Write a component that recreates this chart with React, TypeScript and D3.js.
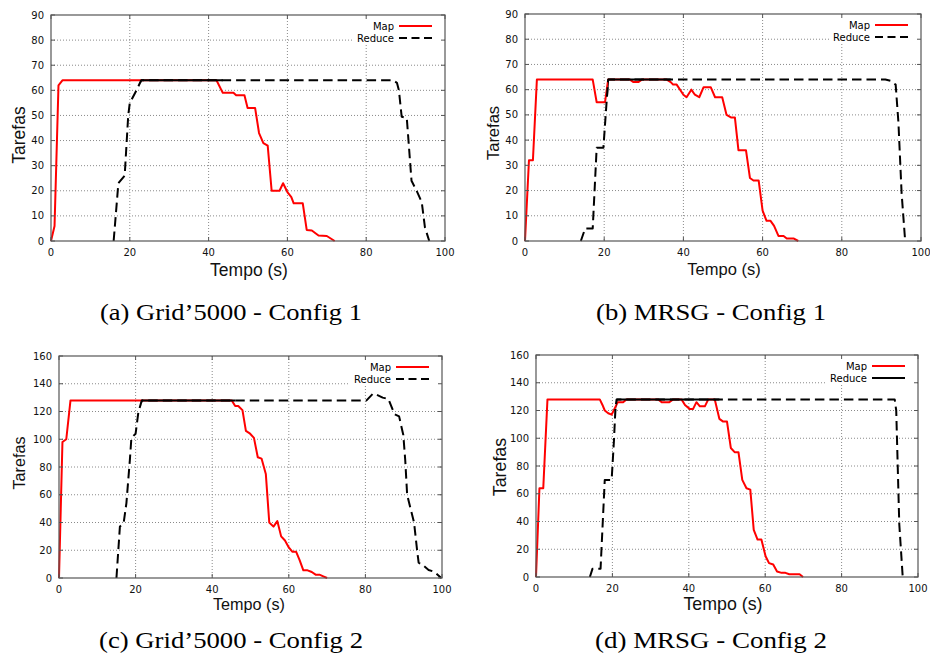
import React from "react";
import * as d3 from "d3";

type Pt = [number, number];

// tick values
const xTicks = [0, 20, 40, 60, 80, 100];
const yTicksConfig1 = [0, 10, 20, 30, 40, 50, 60, 70, 80, 90];
const yTicksConfig2 = [0, 20, 40, 60, 80, 100, 120, 140, 160];

// (a) Grid'5000 - Config 1 : [tempo (s), tarefas]
const mapA: Pt[] = [
  [0, 0], [0.9, 6], [1.9, 62], [2.9, 64], [42, 64], [43.6, 59], [46.3, 59], [47, 58],
  [49.1, 58], [49.9, 53], [51.8, 53], [52.8, 43], [53.9, 39], [55, 38], [56, 20],
  [58, 20], [58.9, 23], [60, 19.5], [61, 17.5], [61.6, 15], [63.9, 15], [64.9, 4.4],
  [66.2, 4.2], [67.9, 2.2], [70, 2], [72, 0],
];
const reduceA: Pt[] = [
  [15.9, 0], [17.1, 23], [18.7, 26], [19.6, 50], [20, 55], [21.7, 60], [22.9, 64],
  [86.8, 64], [87.8, 63], [88.3, 60], [89, 49.5], [90.3, 49], [91.5, 24], [92.8, 20],
  [94.1, 15.5], [94.9, 5.5], [96, 0],
];

// (b) MRSG - Config 1
const mapB: Pt[] = [
  [0, 0], [1, 32], [2, 32], [3, 64], [17.1, 64], [18.1, 55], [20.2, 55], [21, 64],
  [26.5, 64], [27.4, 63], [28.6, 63], [29.5, 64], [35.8, 64], [36.8, 63], [37.4, 62],
  [38.3, 62], [40, 58], [40.8, 57], [42, 60], [42.9, 58], [44, 57], [45.1, 61],
  [46.9, 61], [48, 57], [49.8, 57], [50.9, 50], [52, 49], [53, 49], [53.9, 36],
  [55.8, 36], [56.8, 25], [57.7, 24], [59, 24], [60, 12], [61, 8], [62, 8], [62.9, 6],
  [64, 2], [65.3, 2], [66.1, 1], [67.8, 1], [69, 0],
];
const reduceB: Pt[] = [
  [14.1, 0], [15.2, 5], [17.1, 5], [18.1, 37], [19.8, 37], [21, 64], [91, 64],
  [92.3, 63.5], [93.6, 62], [94.3, 47], [95.1, 19], [96, 0],
];

// (c) Grid'5000 - Config 2
const mapC: Pt[] = [
  [0, 0], [0.9, 98], [1.9, 100], [3, 128], [45.1, 128], [46, 124], [46.8, 124],
  [47.9, 121], [48.8, 106], [49.9, 104], [50.9, 101], [51.9, 87], [52.9, 86], [54, 75],
  [54.9, 40], [56, 37], [57, 41], [58, 30], [59, 27], [60, 22], [60.9, 19], [61.9, 19],
  [62.8, 13], [63.8, 5.5], [64.9, 5.5], [66, 4.3], [67, 2.4], [68, 2.4], [69, 1.2],
  [70, 0],
];
const reduceC: Pt[] = [
  [15, 0], [15.9, 37], [16.9, 40], [17.6, 54], [18.5, 85], [18.9, 101], [20, 104],
  [20.7, 119], [21.6, 128], [80.3, 128], [82, 133], [83, 132], [84.5, 130], [86, 129],
  [87.6, 118], [88.8, 116.5], [89.9, 103], [90.4, 85], [90.9, 60], [91.7, 51],
  [92.7, 40], [93.5, 20], [93.9, 11], [94.9, 9.5], [96.5, 5.8], [98, 4.5], [99.8, 0],
];

// (d) MRSG - Config 2
const mapD: Pt[] = [
  [0, 0], [0.9, 64], [1.9, 64], [3, 128], [16.7, 128], [17.4, 124], [18, 120],
  [18.9, 118], [19.8, 117], [20.7, 122], [21.4, 126], [22.8, 126], [23.7, 128],
  [32, 128], [32.9, 126], [34.9, 126], [35.9, 128], [38.1, 128], [39, 124],
  [40.3, 121], [41.1, 121], [42, 126], [42.9, 123], [44.2, 123], [45.1, 128],
  [46.8, 128], [48, 114], [49, 112], [50, 112], [51, 93], [52, 90], [53, 90], [54, 70],
  [55.1, 64], [56.1, 63], [57, 34], [58, 27], [59, 27], [60.1, 15], [61, 10],
  [62.1, 9], [63.1, 4], [64.3, 3], [65.3, 3], [66.3, 2], [69, 2], [69.9, 0],
];
const reduceD: Pt[] = [
  [14.1, 0], [14.8, 6], [16.9, 6], [18, 70], [19.8, 70], [20.4, 98], [20.8, 122],
  [21.1, 128], [93.9, 128], [94.3, 120], [95.1, 38], [96, 0],
];

const captions = [
  "(a) Grid\u20195000 - Config 1",
  "(b) MRSG - Config 1",
  "(c) Grid\u20195000 - Config 2",
  "(d) MRSG - Config 2",
];

type PanelCfg = {
  map: Pt[];
  reduce: Pt[];
  slots: number;
  yMax: number;
  yTicks: number[];
  l: number; t: number; r: number; b: number;
  labelSize: number;
  yLab: [number, number];
  xLab: [number, number];
  caption: string;
  cap: [number, number, number];
  solidKey?: boolean;
};

const panels: PanelCfg[] = [
  {
    map: mapA, reduce: reduceA, slots: 64, yMax: 90, yTicks: yTicksConfig1,
    l: 51, t: 15, r: 445, b: 241, labelSize: 17.5, yLab: [25, 135], xLab: [249, 276],
    caption: captions[0], cap: [231, 320, 262],
  },
  {
    map: mapB, reduce: reduceB, slots: 64, yMax: 90, yTicks: yTicksConfig1,
    l: 525, t: 14, r: 921, b: 241, labelSize: 16.5, yLab: [499, 133], xLab: [724, 275],
    caption: captions[1], cap: [711, 320, 230],
  },
  {
    map: mapC, reduce: reduceC, slots: 128, yMax: 160, yTicks: yTicksConfig2,
    l: 59, t: 356, r: 442, b: 578, labelSize: 16.2, yLab: [25, 463], xLab: [249, 610],
    caption: captions[2], cap: [231, 648, 264],
  },
  {
    map: mapD, reduce: reduceD, slots: 128, yMax: 160, yTicks: yTicksConfig2,
    l: 536, t: 355, r: 918, b: 577, labelSize: 17.8, yLab: [506, 467], xLab: [723, 610],
    caption: captions[3], cap: [711, 648, 232], solidKey: true,
  },
];

const tickFont = "DejaVu Sans, sans-serif";
const labelFont = "Liberation Sans, Arial, sans-serif";
const captionFont = "Liberation Serif, DejaVu Serif Condensed, Times New Roman, serif";
const DASH = "9.5,5";

function Panel({ p, idx }: { p: PanelCfg; idx: number }) {
  const x = d3.scaleLinear().domain([0, 100]).range([p.l, p.r]);
  const y = d3.scaleLinear().domain([0, p.yMax]).range([p.b, p.t]);
  const line = d3.line<Pt>().x((d) => x(d[0])).y((d) => y(d[1]));

  // where both curves sit on the plateau, the reduce line is drawn solid
  const t0 = (p.reduce.find((d) => d[1] >= p.slots) || p.reduce[0])[0];
  let last = 0;
  p.map.forEach((d, i) => { if (d[1] >= p.slots) last = i; });
  const t1 = p.map[Math.min(last + 1, p.map.length - 1)][0];
  const clipId = `solid-${idx}`;

  const grid = "#8a8a8a";
  const border = "#555";
  const keyX1 = p.r - 46;
  const keyX2 = p.r - 13;

  return (
    <g>
      <defs>
        <clipPath id={clipId}>
          <rect x={x(t0)} y={p.t} width={x(t1) - x(t0)} height={p.b - p.t} />
        </clipPath>
      </defs>
      {/* grid */}
      {p.yTicks.filter((v) => v > 0 && v < p.yMax).map((v) => (
        <line key={"gy" + v} x1={p.l} x2={p.r} y1={y(v)} y2={y(v)}
          stroke={grid} strokeWidth={1} strokeDasharray="1,2" />
      ))}
      {xTicks.filter((v) => v > 0 && v < 100).map((v) => (
        <line key={"gx" + v} x1={x(v)} x2={x(v)} y1={p.t} y2={p.b}
          stroke={grid} strokeWidth={1} strokeDasharray="1,2" />
      ))}
      {/* key background */}
      <rect x={p.r - 92} y={p.t + 1} width={91} height={28} fill="#fff" />
      {/* series */}
      <path d={line(p.map) || ""} fill="none" stroke="#ff0000" strokeWidth={2}
        strokeLinejoin="round" />
      <path d={line(p.reduce) || ""} fill="none" stroke="#000" strokeWidth={2}
        strokeDasharray={DASH} strokeLinejoin="round" />
      <path d={line(p.reduce) || ""} fill="none" stroke="#000" strokeWidth={2}
        clipPath={`url(#${clipId})`} />
      {/* key */}
      <text x={p.r - 51} y={p.t + 11} dy="0.35em" textAnchor="end"
        fontFamily={tickFont} fontSize={10}>Map</text>
      <line x1={keyX1} x2={keyX2} y1={p.t + 11} y2={p.t + 11} stroke="#ff0000" strokeWidth={2} />
      <text x={p.r - 51} y={p.t + 23} dy="0.35em" textAnchor="end"
        fontFamily={tickFont} fontSize={10}>Reduce</text>
      <line x1={keyX1} x2={keyX2} y1={p.t + 23} y2={p.t + 23} stroke="#000" strokeWidth={2}
        strokeDasharray={p.solidKey ? undefined : "8,4.5"} />
      {/* border and ticks */}
      <rect x={p.l} y={p.t} width={p.r - p.l} height={p.b - p.t} fill="none"
        stroke={border} strokeWidth={1.2} />
      {p.yTicks.map((v) => (
        <g key={"ty" + v}>
          <line x1={p.l} x2={p.l + 4} y1={y(v)} y2={y(v)} stroke={border} />
          <line x1={p.r - 4} x2={p.r} y1={y(v)} y2={y(v)} stroke={border} />
          <text x={p.l - 7} y={y(v)} dy="0.35em" textAnchor="end"
            fontFamily={tickFont} fontSize={10} fill="#111">{v}</text>
        </g>
      ))}
      {xTicks.map((v) => (
        <g key={"tx" + v}>
          <line x1={x(v)} x2={x(v)} y1={p.b} y2={p.b - 4} stroke={border} />
          <line x1={x(v)} x2={x(v)} y1={p.t} y2={p.t + 4} stroke={border} />
          <text x={x(v)} y={p.b + 15} textAnchor="middle"
            fontFamily={tickFont} fontSize={10} fill="#111">{v}</text>
        </g>
      ))}
      {/* axis titles */}
      <text transform={`translate(${p.yLab[0]},${p.yLab[1]}) rotate(-90)`} textAnchor="middle"
        fontFamily={labelFont} fontSize={p.labelSize} fill="#111">Tarefas</text>
      <text x={p.xLab[0]} y={p.xLab[1]} textAnchor="middle"
        fontFamily={labelFont} fontSize={p.labelSize} fill="#111">Tempo (s)</text>
      {/* caption */}
      <text x={p.cap[0]} y={p.cap[1]} textAnchor="middle" textLength={p.cap[2]}
        lengthAdjust="spacingAndGlyphs" fontFamily={captionFont}
        style={{ fontStretch: "condensed" }} fontWeight={300}
        fontSize={23} fill="#000">{p.caption}</text>
    </g>
  );
}

export default function App() {
  return (
    <svg width={930} height={657} style={{ position: "absolute", left: 0, top: 0, background: "#fff" }}>
      <rect width={930} height={657} fill="#fff" />
      {panels.map((p, i) => (
        <Panel key={i} p={p} idx={i} />
      ))}
    </svg>
  );
}
